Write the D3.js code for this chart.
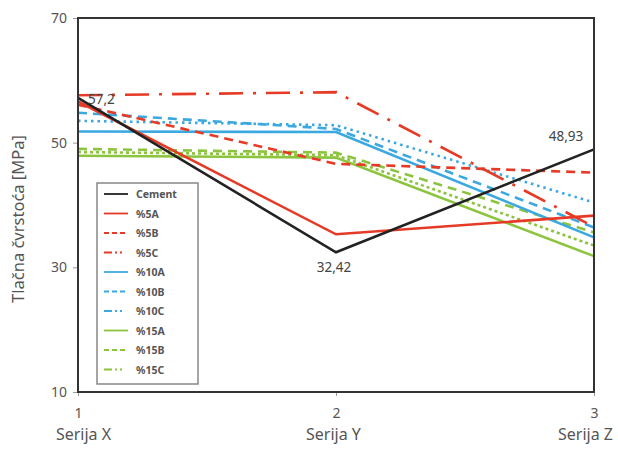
<!DOCTYPE html>
<html><head><meta charset="utf-8">
<script src="https://cdn.jsdelivr.net/npm/d3@7"></script>
<style>body{margin:0;background:#fff}svg{display:block;font-family:"Noto Sans",sans-serif}</style>
</head><body><svg id="c" width="618" height="453"></svg>
<script>
const categories = [1, 2, 3];
const categoryNames = ["Serija X", "Serija Y", "Serija Z"];
const yTicks = [10, 30, 50, 70];
const seriesNames = ["Cement","%5A","%5B","%5C","%10A","%10B","%10C","%15A","%15B","%15C"];
const cement = [57.2, 32.42, 48.93];
const s5A  = [56.6, 35.3, 38.3];
const s5B  = [56.1, 46.6, 45.2];
const s5C  = [57.6, 58.1, 36.5];
const s10A = [51.8, 51.7, 34.8];
const s10B = [54.8, 52.2, 36.4];
const s10C = [53.5, 52.8, 40.4];
const s15A = [47.9, 47.6, 31.8];
const s15B = [49.0, 48.4, 35.6];
const s15C = [48.5, 48.0, 33.5];
const pointLabels = ["57,2", "32,42", "48,93"];

const colors = {black:"#222", red:"#e63a26", blue:"#3ba8e0", green:"#8cc43e"};
const series = [
  {name:seriesNames[0], v:cement, c:colors.black, d:null},
  {name:seriesNames[1], v:s5A, c:colors.red, d:null},
  {name:seriesNames[2], v:s5B, c:colors.red, d:"9,6"},
  {name:seriesNames[3], v:s5C, c:colors.red, d:"24,10,3,10"},
  {name:seriesNames[4], v:s10A, c:colors.blue, d:null},
  {name:seriesNames[5], v:s10B, c:colors.blue, d:"9,6"},
  {name:seriesNames[6], v:s10C, c:colors.blue, d:"2.5,4"},
  {name:seriesNames[7], v:s15A, c:colors.green, d:null},
  {name:seriesNames[8], v:s15B, c:colors.green, d:"9,6"},
  {name:seriesNames[9], v:s15C, c:colors.green, d:"3,3"}
];

const svg = d3.select("#c");
const L=78, R=594, T=18, B=392;
const x = d3.scaleLinear().domain([1,3]).range([L,R]);
const y = d3.scaleLinear().domain([10,70]).range([B,T]);

// axes
const ya = svg.append("g").attr("transform",`translate(${L},0)`)
  .call(d3.axisLeft(y).tickValues(yTicks).tickSize(5).tickPadding(6));
ya.select(".domain").remove();
ya.selectAll("line").attr("stroke","#999");
ya.selectAll("text").attr("font-size",14).attr("fill","#555").attr("font-family","Noto Sans");

const xa = svg.append("g").attr("transform",`translate(0,${B})`)
  .call(d3.axisBottom(x).tickValues(categories).tickFormat(d3.format("d")).tickSize(4).tickPadding(12));
xa.select(".domain").remove();
xa.selectAll("line").attr("stroke","#999");
xa.selectAll("text").attr("font-size",14).attr("fill","#555").attr("font-family","Noto Sans");
const nameDx = [5, -3, -9];
xa.selectAll(".tick").append("text")
  .attr("y",48).attr("x",(d,i)=>nameDx[i]).attr("fill","#555").attr("font-size",16)
  .attr("text-anchor","middle").attr("font-family","Noto Sans")
  .text((d,i)=>categoryNames[i]);

svg.append("text").attr("transform",`translate(24,${(T+B)/2+14}) rotate(-90)`)
  .attr("text-anchor","middle").attr("font-size",16.5).attr("fill","#555")
  .text("Tlačna čvrstoća [MPa]");

// lines
const line = d3.line().x((d,i)=>x(categories[i])).y(d=>y(d));
svg.append("g").selectAll("path").data(series.slice().reverse()).join("path")
  .attr("d",s=>line(s.v)).attr("fill","none").attr("stroke",s=>s.c)
  .attr("stroke-width",2.6).attr("stroke-dasharray",s=>s.d);

// frame
svg.append("rect").attr("x",L).attr("y",T).attr("width",R-L).attr("height",B-T)
  .attr("fill","none").attr("stroke","#333").attr("stroke-width",2);

// labels
const lblPos = [[10,6,"start"],[-2,20,"middle"],[-28,-8,"middle"]];
svg.append("g").selectAll("text").data(cement).join("text")
  .attr("x",(d,i)=>x(categories[i])+lblPos[i][0]).attr("y",(d,i)=>y(d)+lblPos[i][1])
  .attr("text-anchor",(d,i)=>lblPos[i][2]).attr("font-size",13.5).attr("fill","#444")
  .text((d,i)=>pointLabels[i]);

// legend
const lg = svg.append("g").attr("transform","translate(97,183)");
lg.append("rect").attr("width",101).attr("height",201).attr("fill","#fff")
  .attr("stroke","#888").attr("stroke-width",1.5);
const items = lg.selectAll("g").data(series).join("g")
  .attr("transform",(d,i)=>`translate(0,${11+i*19.5})`);
items.append("line").attr("x1",7).attr("x2",31).attr("stroke",d=>d.c)
  .attr("stroke-width",1.8).attr("stroke-dasharray",d=>d.d?(d.d==="9,6"?"5,3":"8,3,2,3,2"):null);
items.append("text").attr("x",39).attr("y",4).attr("font-size",10.5).attr("fill","#555")
  .attr("font-weight","bold").text(d=>d.name);
</script></body></html>
